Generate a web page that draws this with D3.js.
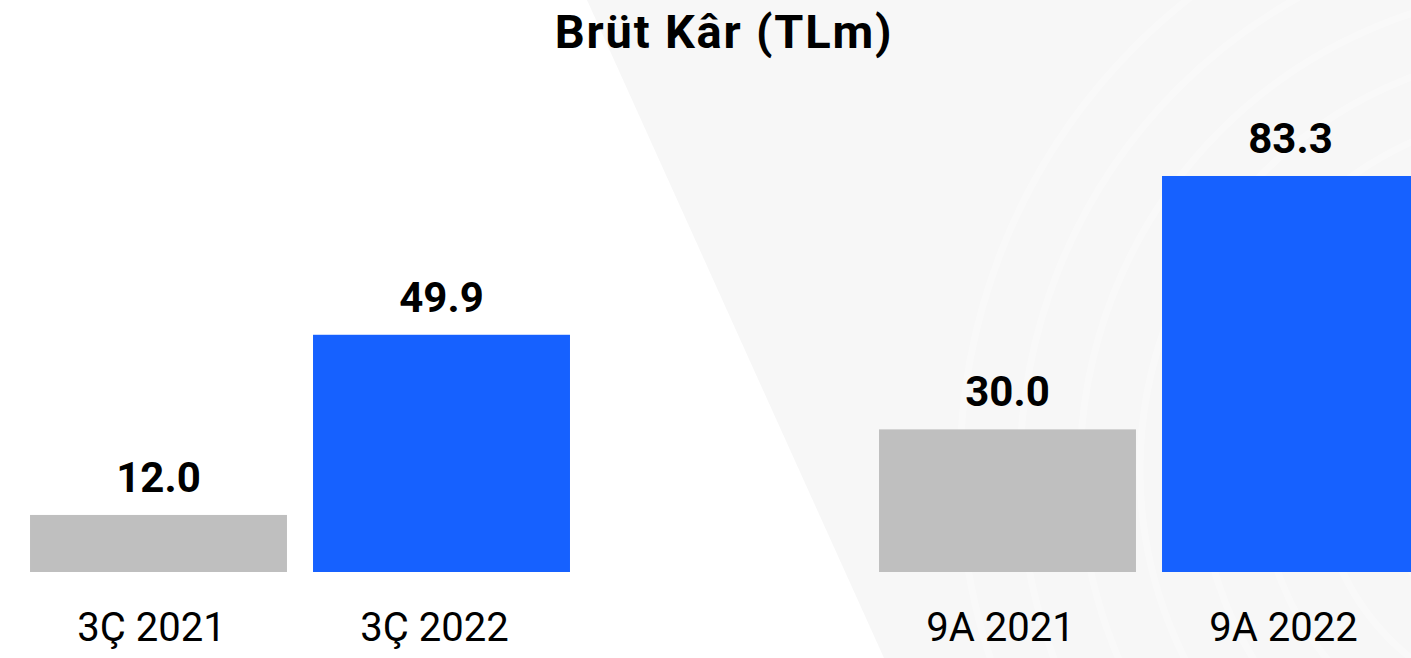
<!DOCTYPE html>
<html>
<head>
<meta charset="utf-8">
<script src="https://cdn.jsdelivr.net/npm/d3@7"></script>
<style>
  html, body { margin: 0; padding: 0; background: #fff; }
  svg { display: block; font-family: Roboto, "Noto Sans", sans-serif; }
</style>
</head>
<body>
<div id="chart"></div>
<script>
// Chart data
const categories = ['3Ç 2021', '3Ç 2022', '', '9A 2021', '9A 2022'];
const values = [12.0, 49.9, null, 30.0, 83.3];
const valueLabels = ['12.0', '49.9', '', '30.0', '83.3'];
const barColors = ['#bfbfbf', '#1661ff', 'none', '#bfbfbf', '#1661ff'];
const title = 'Brüt Kâr (TLm)';

const width = 1411, height = 658;
const baseline = 572;

const svg = d3.select('#chart')
  .append('svg')
  .attr('width', width)
  .attr('height', height);

// Background: light diagonal panel with faint rings
svg.append('rect')
  .attr('width', width).attr('height', height)
  .attr('fill', '#ffffff');
svg.append('path')
  .attr('d', `M587,0 L${width},0 L${width},${height} L884,${height} Z`)
  .attr('fill', '#f7f7f7');

const rings = svg.append('g').attr('fill', 'none').attr('stroke', '#ffffff');
d3.range(8).forEach(i => {
  rings.append('circle')
    .attr('cx', 1560).attr('cy', 470)
    .attr('r', 180 + i * 60)
    .attr('stroke-width', 7)
    .attr('stroke-opacity', 0.3);
});

// Scales
const x = d3.scaleBand()
  .domain(d3.range(categories.length))
  .range([17, 1432])
  .paddingInner(0.092)
  .paddingOuter(0.046);

const y = d3.scaleLinear()
  .domain([0, 100])
  .range([baseline, baseline - 475.4]);

const data = categories.map((c, i) => ({ i, c, v: values[i], label: valueLabels[i], color: barColors[i] }))
  .filter(d => d.v !== null);

// Bars
svg.append('g')
  .selectAll('rect')
  .data(data)
  .join('rect')
  .attr('x', d => x(d.i))
  .attr('y', d => y(d.v))
  .attr('width', x.bandwidth())
  .attr('height', d => y(0) - y(d.v))
  .attr('fill', d => d.color);

// Value labels
svg.append('g')
  .selectAll('text')
  .data(data)
  .join('text')
  .attr('x', d => x(d.i) + x.bandwidth() / 2)
  .attr('y', d => y(d.v) - 23)
  .attr('text-anchor', 'middle')
  .attr('font-size', 42)
  .attr('font-weight', 700)
  .attr('fill', '#000')
  .text(d => d.label);

// Category axis (no line, no ticks)
const axis = svg.append('g')
  .attr('transform', `translate(0,${baseline})`)
  .call(d3.axisBottom(x).tickSize(0).tickPadding(0).tickFormat(i => categories[i]));
axis.select('.domain').remove();
axis.selectAll('text')
  .attr('font-family', 'Roboto, "Noto Sans", sans-serif')
  .attr('font-size', 40)
  .attr('fill', '#000')
  .attr('dy', null)
  .attr('y', 69)
  .attr('dx', -7);

// Title
svg.append('text')
  .attr('x', 724)
  .attr('y', 48)
  .attr('text-anchor', 'middle')
  .attr('font-size', 47)
  .attr('font-weight', 700)
  .attr('letter-spacing', 1.8)
  .attr('fill', '#000')
  .text(title);
</script>
</body>
</html>
